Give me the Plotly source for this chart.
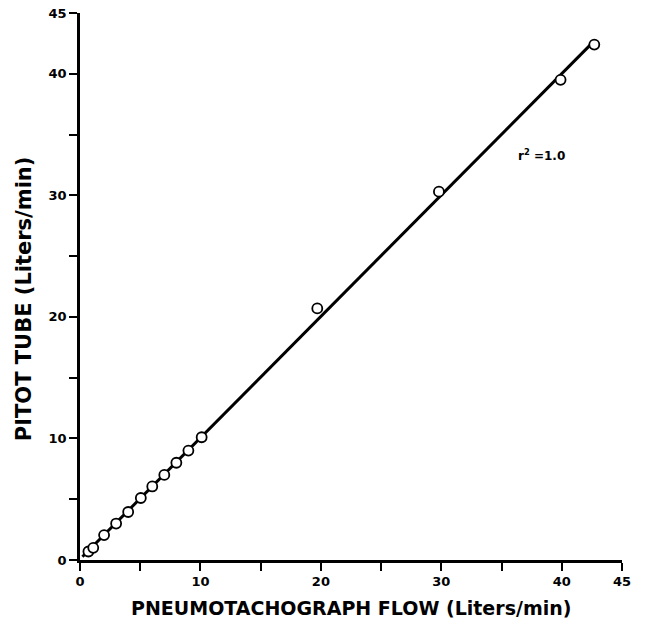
import numpy as np
import plotly.graph_objects as go

# Data
pneumo_flow = [0.7, 1.1, 2.0, 3.0, 4.0, 5.05, 6.0, 7.0, 8.0, 9.0, 10.1, 19.7, 29.8, 39.9, 42.7]
pitot_flow = [0.7, 1.0, 2.05, 3.0, 3.95, 5.1, 6.05, 7.0, 8.0, 9.0, 10.1, 20.7, 30.3, 39.5, 42.4]

tick_vals = [0, 5, 10, 15, 20, 25, 30, 35, 40, 45]
tick_text = ["0", "", "10", "", "20", "", "30", "", "40", "45"]
r2_label = "r<sup>2</sup> =1.0"
x_title = "PNEUMOTACHOGRAPH FLOW (Liters/min)"
y_title = "PITOT TUBE (Liters/min)"

# Regression line computed from the data
slope, intercept = np.polyfit(pneumo_flow, pitot_flow, 1)
line_x = np.array([0.2, max(pneumo_flow)])
line_y = slope * line_x + intercept

font_family = "DejaVu Sans, Liberation Sans, Arial, sans-serif"

fig = go.Figure()
fig.add_trace(go.Scatter(
    x=line_x, y=line_y, mode="lines",
    line=dict(color="black", width=3),
    showlegend=False, hoverinfo="skip"))
fig.add_trace(go.Scatter(
    x=pneumo_flow, y=pitot_flow, mode="markers",
    marker=dict(symbol="circle", size=10, color="white",
                line=dict(color="black", width=1.8)),
    cliponaxis=False, showlegend=False))

fig.add_annotation(x=38.3, y=33.3, text=r2_label, showarrow=False,
                   font=dict(family=font_family, size=12, color="black", weight="bold"))

# Axis titles as annotations for exact placement
fig.add_annotation(xref="paper", yref="paper", x=0.5, y=-0.088, yanchor="middle",
                   text=x_title, showarrow=False,
                   font=dict(family=font_family, size=19, color="black", weight="bold"))
fig.add_annotation(xref="paper", yref="paper", x=-0.103, y=0.477, xanchor="center",
                   yanchor="middle", textangle=-90,
                   text=y_title, showarrow=False,
                   font=dict(family=font_family, size=21, color="black", weight="bold"))

axis_common = dict(
    range=[0, 45], tickvals=tick_vals, ticktext=tick_text,
    showline=True, linecolor="black", linewidth=2.5,
    ticks="outside", ticklen=8, tickwidth=2, tickcolor="black",
    showgrid=False, zeroline=False, automargin=False,
    tickfont=dict(family=font_family, size=13, color="black", weight="bold"),
)

fig.update_xaxes(**axis_common)
fig.update_yaxes(**axis_common)

fig.update_layout(
    width=645, height=632,
    margin=dict(l=80, r=23, t=13, b=72),
    plot_bgcolor="white", paper_bgcolor="white",
)

fig.write_html("out.html", config={"displayModeBar": False},
               post_script="document.body.style.margin='0';")
